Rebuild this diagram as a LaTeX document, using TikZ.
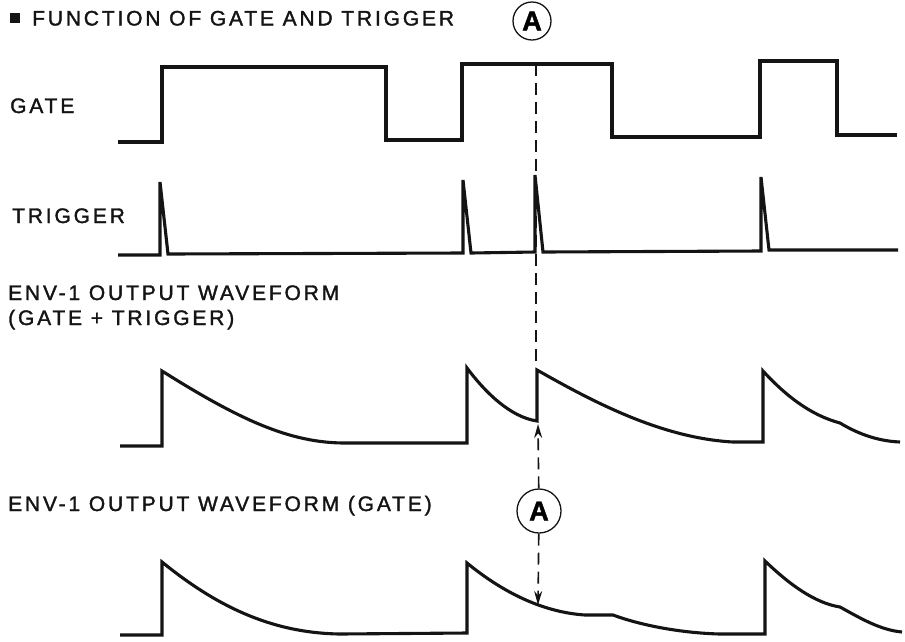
\documentclass[tikz,border=0pt]{standalone}
\usepackage{fontspec}
\setmainfont{Liberation Sans}[LetterSpace=13.5,FakeBold=1.6]
\usepackage{xcolor}
\usepackage{tikz}
\usetikzlibrary{arrows.meta,calc,positioning}
\definecolor{inkblack}{RGB}{20,20,20}
\tikzset{
  wave/.style={draw=inkblack,line width=3.1pt,line join=miter,line cap=butt},
  guide/.style={draw=inkblack,line width=1.6pt,dash pattern=on 12pt off 7pt},
  marker/.style={circle,draw=inkblack,line width=1.3pt,inner sep=0pt,
    minimum size=#1,font=\fontsize{27}{30}\selectfont\bfseries},
  label/.style={anchor=base west,inner sep=0pt,text=inkblack,
    font=\fontsize{21}{24}\selectfont,align=left},
  tip/.style={-{Stealth[length=14pt,width=8pt]}}
}

\begin{document}
\begin{tikzpicture}[x=1pt,y=-1pt]
  \useasboundingbox (0,0) rectangle (905,641);
  \fill[inkblack] (10,13) rectangle (20,23);
  \node[label] (ttl) at (32,25.5) {FUNCTION OF GATE AND TRIGGER};
  \node[label] (lgate) at (10,113) {GATE};
  \node[label] (ltrig) at (12,223) {TRIGGER};
  \node[label] (lenv1) at (8,325) {ENV-1 OUTPUT WAVEFORM\\[1pt](GATE + TRIGGER)};
  \node[label] (lenv2) at (8,511) {ENV-1 OUTPUT WAVEFORM (GATE)};
  \node[marker=38pt] (mka) at (532,21) {A};
  \node[marker=44pt] (mkb) at (539,511) {A};

  % gate
  \draw[wave] (118,142) -- (162,142) -- (162,67) -- (386,67) -- (386,140)
    -- (462,140) -- (462,64) -- (612,64) -- (612,137) -- (760,137)
    -- (760,61) -- (837,61) -- (837,135) -- (897,135);
  % trigger
  \draw[wave] (118,255) -- (160,255) -- (160,182) -- (168,254) -- (463,253)
    -- (463,180) -- (471,253) -- (535,252) -- (535,175) -- (543,252)
    -- (761,251) -- (761,177) -- (769,250) -- (898,250);
  % env-1, gate + trigger
  \draw[wave] (120,446) -- (162,446) -- (162,371)
    .. controls (240,420) and (290,443) .. (345,443) -- (467,443) -- (467,368)
    .. controls (485,392) and (510,417) .. (537,421) -- (537,370)
    .. controls (590,400) and (660,438) .. (733,442) -- (763,442) -- (763,371)
    .. controls (785,395) and (810,415) .. (840,423)
    .. controls (855,432) and (875,441) .. (900,442);
  % env-1, gate
  \draw[wave] (120,635) -- (162,635) -- (162,562)
    .. controls (215,605) and (270,633) .. (340,634) -- (467,633) -- (467,563)
    .. controls (500,590) and (540,612) .. (585,615) -- (613,615)
    .. controls (640,625) and (680,633) .. (720,634) -- (765,634) -- (765,561)
    .. controls (790,585) and (815,603) .. (840,607)
    .. controls (860,618) and (880,630) .. (902,632);

  \coordinate (gtop) at (536,64);
  \coordinate (etop) at (536,364);
  \coordinate (dip) at (538,424);
  \coordinate (hit) at (538,605);
  \draw[guide] (gtop) -- (etop);
  \draw[guide,tip] (mkb) -- (dip);
  \draw[guide,tip] (mkb) -- (hit);
\end{tikzpicture}
\end{document}
